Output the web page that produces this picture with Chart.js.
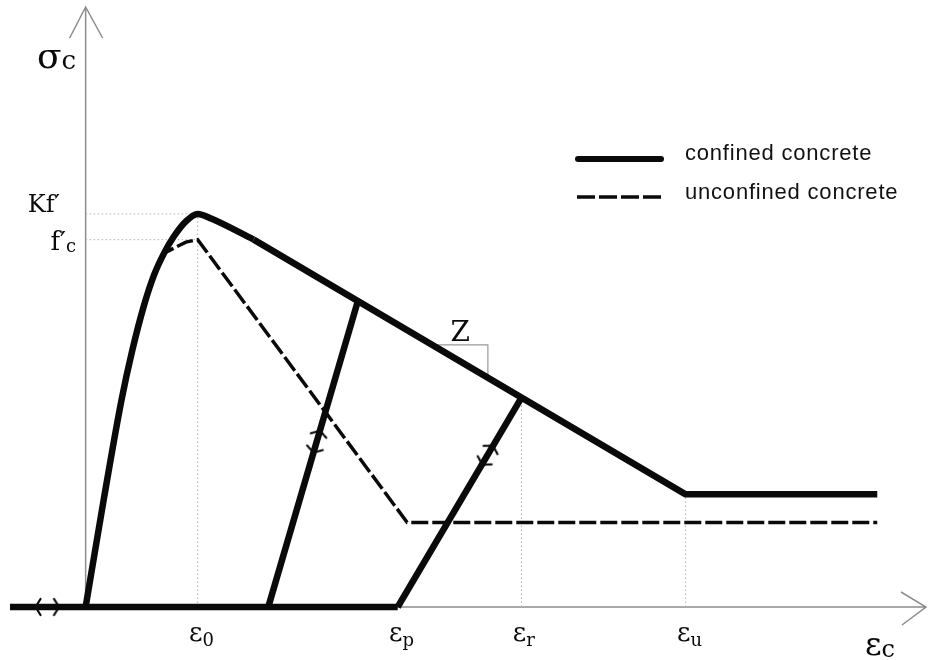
<!DOCTYPE html>
<html>
<head>
<meta charset="utf-8">
<script src="https://cdn.jsdelivr.net/npm/chart.js@4"></script>
<style>
  html, body { margin: 0; padding: 0; background: #fff; }
  #wrap { width: 933px; height: 660px; }
</style>
</head>
<body>
<div id="wrap"><canvas id="c" width="933" height="660"></canvas></div>
<script>
// Strain (per mille) and stress (MPa) of the schematic confined / unconfined concrete law.

// Marked strains on the horizontal axis and their labels (symbol, subscript)
const strainMarks  = [2.0, 5.57, 7.78, 10.71];
const strainLabels = [['ε', '0'], ['ε', 'p'], ['ε', 'r'], ['ε', 'u']];
const strainGuideTop = [32.1, null, 17.1, 9.2];

// Marked stresses on the vertical axis and their labels
const stressMarks  = [32.1, 30.0];
const stressLabels = [['Kf′', ''], ['f′', 'c']];
const stressGuideEnd = [2.0, 2.0];

// Axis titles
const xTitle = ['ε', 'c'];
const yTitle = ['σ', 'c'];

// Series names
const seriesNames = ['confined concrete', 'unconfined concrete'];

// Confined concrete: rising branch through the rounded peak, then linear softening and residual plateau
const confinedRise = [
  {x: 0.00, y: 0.0}, {x: 0.32, y: 8.7}, {x: 0.64, y: 16.9}, {x: 0.83, y: 20.9},
  {x: 1.04, y: 24.6}, {x: 1.22, y: 27.1}, {x: 1.40, y: 28.9}, {x: 1.58, y: 30.3},
  {x: 1.79, y: 31.5}, {x: 2.00, y: 32.1}, {x: 2.25, y: 31.7}, {x: 3.00, y: 30.0}
];
const confinedTail = [{x: 3.00, y: 30.0}, {x: 10.71, y: 9.2}, {x: 14.13, y: 9.2}];

// Unconfined concrete
const unconfined = [
  {x: 0.00, y: 0.0}, {x: 0.32, y: 8.7}, {x: 0.64, y: 16.9}, {x: 0.83, y: 20.9},
  {x: 1.04, y: 24.6}, {x: 1.22, y: 27.1}, {x: 1.40, y: 28.9}, {x: 1.79, y: 29.8},
  {x: 2.00, y: 30.0}, {x: 5.74, y: 6.9}, {x: 14.13, y: 6.9}
];

// Loading path along the strain axis and the two unloading / reloading branches
const basePath = [{x: -1.35, y: 0}, {x: 5.57, y: 0}];
const unloadA  = [{x: 3.26, y: 0}, {x: 4.86, y: 25.0}];
const unloadB  = [{x: 5.57, y: 0}, {x: 7.78, y: 17.1}];

// Direction markers (first points back / up, second forward / down)
const baseArrows    = [{x: -0.85, y: 0}, {x: -0.52, y: 0}];
const unloadAArrows = [{x: 4.17, y: 14.2}, {x: 4.08, y: 12.8}];
const unloadBArrows = [{x: 7.25, y: 13.0}, {x: 7.10, y: 11.8}];

// Slope triangle on the softening branch
const slopeZ = [{x: 6.19, y: 21.4}, {x: 7.18, y: 21.4}, {x: 7.18, y: 18.7}];
const slopeLabel = 'Z';

const INK = '#0a0a0a';
const AXIS = '#8c8c8c';
const GUIDE = '#b0b0b0';
const SERIF = '"DejaVu Serif", "Liberation Serif", serif';
const SANS = '"Liberation Sans", Arial, sans-serif';

// small open chevron used as a point style for the direction markers
const chevron = (() => {
  const c = document.createElement('canvas');
  c.width = 10; c.height = 20;
  const g = c.getContext('2d');
  g.strokeStyle = INK; g.lineWidth = 2.2; g.lineCap = 'round'; g.lineJoin = 'round';
  g.beginPath(); g.moveTo(2.5, 2); g.lineTo(7.5, 10); g.lineTo(2.5, 18); g.stroke();
  return c;
})();

function lineAngle(chart, pts) {
  const xs = chart.scales.x, ys = chart.scales.y;
  const a = pts[0], b = pts[pts.length - 1];
  return Math.atan2(ys.getPixelForValue(b.y) - ys.getPixelForValue(a.y),
                    xs.getPixelForValue(b.x) - xs.getPixelForValue(a.x)) * 180 / Math.PI;
}

function arrowSet(points, host, flipFirst) {
  return {
    data: points, showLine: false, order: 0, clip: false,
    pointStyle: chevron, pointRadius: 6,
    rotation: ctx => lineAngle(ctx.chart, host) + ((ctx.dataIndex === 0) === flipFirst ? 180 : 0)
  };
}

function guide(data) {
  return { data, borderColor: GUIDE, borderWidth: 1, borderDash: [1.5, 2.5],
           pointRadius: 0, order: 20, clip: false };
}

const datasets = [];
strainMarks.forEach((m, i) => {
  if (strainGuideTop[i] !== null) datasets.push(guide([{x: m, y: 0}, {x: m, y: strainGuideTop[i]}]));
});
stressMarks.forEach((m, i) => datasets.push(guide([{x: 0, y: m}, {x: stressGuideEnd[i], y: m}])));

datasets.push(
  { label: 'slope', data: slopeZ, borderColor: '#999', borderWidth: 1.2, pointRadius: 0, order: 15, clip: false },
  { label: seriesNames[1], data: unconfined, borderColor: INK, borderWidth: 3.5, borderDash: [17, 4],
    pointRadius: 0, tension: 0, order: 8, clip: false },
  { label: seriesNames[0], data: confinedRise, borderColor: INK, borderWidth: 6.5, pointRadius: 0,
    cubicInterpolationMode: 'monotone', borderJoinStyle: 'round', order: 3, clip: false },
  { label: seriesNames[0], data: confinedTail, borderColor: INK, borderWidth: 6.5, pointRadius: 0,
    borderJoinStyle: 'round', order: 3, clip: false },
  { data: basePath, borderColor: INK, borderWidth: 6.5, pointRadius: 0, order: 3, clip: false },
  { data: unloadA, borderColor: INK, borderWidth: 6.5, pointRadius: 0, order: 3, clip: false },
  { data: unloadB, borderColor: INK, borderWidth: 6.5, pointRadius: 0, order: 3, clip: false },
  arrowSet(baseArrows, basePath, true),
  arrowSet(unloadAArrows, unloadA, false),
  arrowSet(unloadBArrows, unloadB, false)
);

// Axes with open arrowheads, drawn behind the curves
const axesPlugin = {
  id: 'axesArrows',
  beforeDatasetsDraw(chart) {
    const {ctx, chartArea: a, scales: {x, y}} = chart;
    const x0 = x.getPixelForValue(0), y0 = y.getPixelForValue(0);
    ctx.save();
    ctx.strokeStyle = AXIS; ctx.lineWidth = 1.5;
    ctx.beginPath();
    ctx.moveTo(x0, a.bottom); ctx.lineTo(x0, a.top);
    ctx.moveTo(x0 - 16, a.top + 31); ctx.lineTo(x0, a.top); ctx.lineTo(x0 + 17, a.top + 31);
    ctx.moveTo(a.left, y0); ctx.lineTo(a.right, y0);
    ctx.moveTo(a.right - 25, y0 - 15); ctx.lineTo(a.right, y0); ctx.lineTo(a.right - 24, y0 + 18);
    ctx.stroke();
    ctx.restore();
  }
};

function symbolWithSub(ctx, main, sub, xLeft, base, mainFont, subFont, subDrop) {
  ctx.font = mainFont;
  ctx.textAlign = 'left';
  ctx.fillText(main, xLeft, base);
  const w = ctx.measureText(main).width;
  if (sub) {
    ctx.font = subFont;
    ctx.fillText(sub, xLeft + w, base + subDrop);
  }
}

// Labels, slope mark and legend
const labelPlugin = {
  id: 'labels',
  afterDatasetsDraw(chart) {
    const {ctx, scales: {x, y}} = chart;
    const y0 = y.getPixelForValue(0);
    ctx.save();
    ctx.fillStyle = INK;
    ctx.textBaseline = 'alphabetic';

    // strain marks
    strainMarks.forEach((m, i) => {
      const [main, sub] = strainLabels[i];
      ctx.font = '26px ' + SERIF;
      const w = ctx.measureText(main).width;
      const cx = x.getPixelForValue(m) - 2;
      symbolWithSub(ctx, main, sub, cx - w / 2, y0 + 34, '26px ' + SERIF, '18px ' + SERIF, 5);
    });

    // axis titles
    symbolWithSub(ctx, xTitle[0], xTitle[1], 865, y0 + 48, '32px ' + SERIF, '24px ' + SERIF, 2);
    symbolWithSub(ctx, yTitle[0], yTitle[1], 37, y.getPixelForValue(49) + 61, '36px ' + SERIF, '26px ' + SERIF, 1);

    // stress marks
    const kY = y.getPixelForValue(stressMarks[0]);
    ctx.font = '24px ' + SERIF;
    ctx.textAlign = 'right';
    ctx.fillText(stressLabels[0][0], 60, kY - 2);
    const fY = y.getPixelForValue(stressMarks[1]);
    ctx.font = '26px ' + SERIF;
    const fw = ctx.measureText(stressLabels[1][0]).width;
    symbolWithSub(ctx, stressLabels[1][0], stressLabels[1][1], 66 - fw, fY + 10, '26px ' + SERIF, '18px ' + SERIF, 2);

    // slope label
    ctx.font = '28px ' + SERIF;
    ctx.textAlign = 'center';
    const zx = (x.getPixelForValue(slopeZ[0].x) + x.getPixelForValue(slopeZ[1].x)) / 2;
    ctx.fillText(slopeLabel, zx, y.getPixelForValue(slopeZ[0].y) - 4);

    // legend
    const ds = chart.data.datasets;
    const confined = ds.find(d => d.label === seriesNames[0]);
    const unconf = ds.find(d => d.label === seriesNames[1]);
    ctx.strokeStyle = INK;
    ctx.lineCap = 'round';
    ctx.lineWidth = confined.borderWidth - 0.5;
    ctx.beginPath(); ctx.moveTo(578, 159); ctx.lineTo(661, 159); ctx.stroke();
    ctx.lineCap = 'butt';
    ctx.lineWidth = unconf.borderWidth;
    ctx.setLineDash([18, 4]);
    ctx.beginPath(); ctx.moveTo(577, 197); ctx.lineTo(661, 197); ctx.stroke();
    ctx.setLineDash([]);
    ctx.font = '22px ' + SANS;
    ctx.letterSpacing = '0.8px';
    ctx.textAlign = 'left';
    ctx.fillStyle = '#111';
    ctx.fillText(seriesNames[0], 685, 160);
    ctx.fillText(seriesNames[1], 685, 199);
    ctx.restore();
  }
};

new Chart(document.getElementById('c'), {
  type: 'line',
  data: { datasets },
  options: {
    responsive: false,
    animation: false,
    layout: { padding: { left: 10, right: 1, top: 6, bottom: 53 } },
    scales: {
      x: { type: 'linear', min: -1.35, max: 15, display: false },
      y: { type: 'linear', min: 0, max: 49, display: false }
    },
    plugins: { legend: { display: false }, tooltip: { enabled: false } },
    elements: { line: { borderCapStyle: 'butt' } }
  },
  plugins: [axesPlugin, labelPlugin]
});
</script>
</body>
</html>
